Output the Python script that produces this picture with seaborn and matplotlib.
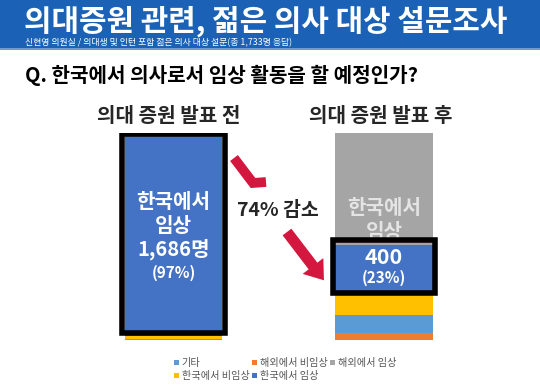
"""
의대증원 관련 젊은 의사 설문 - 발표 전/후 누적 막대 재현
"""

import matplotlib
matplotlib.use("Agg")
import matplotlib.pyplot as plt
import seaborn as sns
import pandas as pd
from matplotlib.patches import Rectangle, Patch, FancyArrow

# ---------------------------------------------------------------------------
# 데이터 (그림에서 읽은 값, 총 1,733명)
# ---------------------------------------------------------------------------
PERIODS = ["의대 증원 발표 전", "의대 증원 발표 후"]

# 아래에서 위로 쌓는 순서
SEGMENTS = ["해외에서 비임상", "기타", "한국에서 비임상", "한국에서 임상", "해외에서 임상"]
VALUES = {
    "해외에서 비임상": [5, 59],
    "기타": [7, 150],
    "한국에서 비임상": [25, 184],
    "한국에서 임상": [1686, 400],
    "해외에서 임상": [10, 940],
}
SHARE_LABELS = ["(97%)", "(23%)"]
COUNT_LABELS = ["1,686명", "400"]
TOTAL = 1733

COLORS = {
    "해외에서 비임상": "#ed7d31",
    "기타": "#5b9bd5",
    "한국에서 비임상": "#ffc000",
    "한국에서 임상": "#4472c4",
    "해외에서 임상": "#a5a5a5",
}
# 범례 순서 (3열, 열 우선 채움)
LEGEND_ORDER = ["기타", "한국에서 비임상", "해외에서 비임상", "한국에서 임상", "해외에서 임상"]

TITLE = "의대증원 관련, 젊은 의사 대상 설문조사"
SUBTITLE = "신현영 의원실 / 의대생 및 인턴 포함 젊은 의사 대상 설문(총 1,733명 응답)"
QUESTION = "Q. 한국에서 의사로서 임상 활동을 할 예정인가?"
DROP_TEXT = "74% 감소"

# ---------------------------------------------------------------------------
sns.set_theme(style="white")
plt.rcParams["font.family"] = ["Noto Sans CJK KR", "DejaVu Sans"]

W, H = 540, 389
fig = plt.figure(figsize=(W / 100, H / 100), dpi=100)

# 장식용 (픽셀 좌표) 레이어
deco = fig.add_axes([0, 0, 1, 1])
deco.set_xlim(0, W)
deco.set_ylim(H, 0)
deco.axis("off")

deco.add_patch(Rectangle((0, 0), W, 48, color="#1b62b6", lw=0))
deco.add_patch(Rectangle((0, 48), W, 2, color="#6f9ad6", lw=0))
deco.text(24, 21, TITLE, color="white", fontsize=21.5, fontweight="heavy",
          va="center", ha="left")
deco.text(25, 43, SUBTITLE, color="white", fontsize=6.4, va="center", ha="left")
deco.text(25, 75, QUESTION, color="black", fontsize=14.5, fontweight="bold",
          va="center", ha="left")
deco.text(169, 115, PERIODS[0], fontsize=14.5, fontweight="bold", ha="center", va="center")
deco.text(381, 115, PERIODS[1], fontsize=14.5, fontweight="bold", ha="center", va="center")
deco.text(278, 210, DROP_TEXT, fontsize=14, fontweight="bold", ha="center", va="center")

# 빨간 화살표 (꺾인 꼬리 + 머리)
red = "#d4173f"
deco.plot([234, 253, 266], [158, 183, 182], color=red, lw=7,
          solid_joinstyle="miter", solid_capstyle="butt")
deco.add_patch(FancyArrow(287, 232, 26, 34, width=11, head_width=26,
                          head_length=18, color=red, lw=0))

# ---------------------------------------------------------------------------
# 누적 막대 (seaborn)
# ---------------------------------------------------------------------------
ax = fig.add_axes([100 / W, (H - 340) / H, 360 / W, 207 / H])
bar_w = 0.461
px = TOTAL / 207  # 1픽셀당 값

df = pd.DataFrame(VALUES, index=PERIODS)
cum = df[SEGMENTS].cumsum(axis=1)
bottoms = cum - df[SEGMENTS]

# 큰 누적값부터 그려서 겹쳐 쌓기
for seg in reversed(SEGMENTS):
    sns.barplot(x=PERIODS, y=cum[seg].values, color=COLORS[seg], saturation=1,
                width=bar_w, linewidth=0, ax=ax)

ax.set_xlim(-0.3492, 1.361)
ax.set_ylim(0, TOTAL)
ax.axis("off")

# 강조 박스 (한국에서 임상)
key = "한국에서 임상"
pad_x = 0.014
for i, (pad_bot, pad_top) in enumerate([(3 * px, 0), (0, 5 * px)]):
    y0 = bottoms.loc[PERIODS[i], key] + pad_bot
    h = df.loc[PERIODS[i], key] - pad_bot + pad_top
    ax.add_patch(Rectangle((i - bar_w / 2 - pad_x, y0), bar_w + 2 * pad_x, h,
                           fill=False, edgecolor="black", lw=4, zorder=5,
                           joinstyle="miter"))

# 막대 내부 글자
mid0 = bottoms.loc[PERIODS[0], key] + df.loc[PERIODS[0], key] / 2
for txt, off, fs in [("한국에서", 24, 14.5), ("임상", 7, 14.5),
                     (COUNT_LABELS[0], -10, 14.5), (SHARE_LABELS[0], -27, 11)]:
    ax.annotate(txt, (0, mid0), xytext=(0, off), textcoords="offset points",
                ha="center", va="center", color="white", fontsize=fs,
                fontweight="bold", zorder=6)

mid1 = bottoms.loc[PERIODS[1], key] + df.loc[PERIODS[1], key] / 2
for txt, off, fs in [(COUNT_LABELS[1], 8.5, 15.5), (SHARE_LABELS[1], -6, 11)]:
    ax.annotate(txt, (1, mid1), xytext=(0, off), textcoords="offset points",
                ha="center", va="center", color="white", fontsize=fs,
                fontweight="bold", zorder=6)

gray_bottom = bottoms.loc[PERIODS[1], "해외에서 임상"]
for txt, off in [("한국에서", 27), ("임상", 10)]:
    ax.annotate(txt, (1, gray_bottom), xytext=(0, off), textcoords="offset points",
                ha="center", va="center", color="#e4e4e4", fontsize=14.5,
                fontweight="bold", zorder=4)

# 범례
handles = [Patch(facecolor=COLORS[s], edgecolor="none") for s in LEGEND_ORDER]
fig.legend(handles, LEGEND_ORDER, loc="upper left",
           bbox_to_anchor=(174 / W, 1 - 358 / H), ncol=3, frameon=False,
           prop=dict(size=7.3, weight="medium"), handlelength=0.5, handleheight=0.5,
           handletextpad=0.25, columnspacing=0.25, labelspacing=0.3,
           borderpad=0, borderaxespad=0, labelcolor="#555555")

fig.savefig("out.png", dpi=100)
